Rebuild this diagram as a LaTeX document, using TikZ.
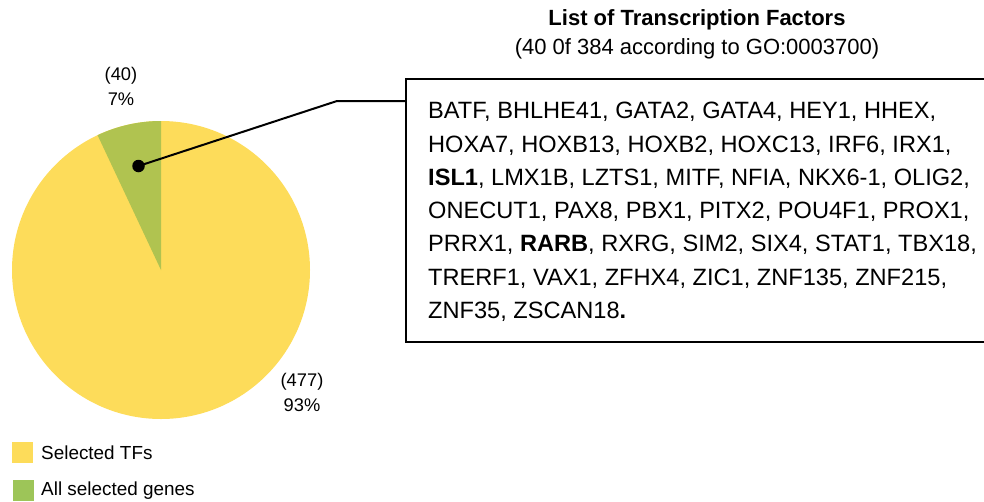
\documentclass[tikz,border=0pt]{standalone}
\usepackage{fontspec}
\setmainfont{Liberation Sans}
\definecolor{pieyellow}{HTML}{FDDC5A}
\definecolor{piegreen}{HTML}{B0C350}
\definecolor{leggreen}{HTML}{9DC558}
\begin{document}
\begin{tikzpicture}[x=1pt,y=1pt,
  lbl/.style={inner sep=0pt,font=\fontsize{18.3}{20}\selectfont},
  legtxt/.style={inner sep=0pt,anchor=west,font=\fontsize{18.9}{20}\selectfont},
  legsq/.style={inner sep=0pt,minimum width=21pt,minimum height=21pt,anchor=north west},
  conn/.style={line width=2pt,black}]
\useasboundingbox (0,0) rectangle (984,-501);
\clip (0,0) rectangle (984,-501);
% pie
\fill[pieyellow] (161,-270) circle[radius=149];
\fill[piegreen] (161,-270) -- ++(90:149) arc[start angle=90,end angle=115.2,radius=149] -- cycle;
% labels
\node[lbl] (n40) at (121,-75.5) {(40)};
\node[lbl] (p7) at (121,-99.5) {7\%};
\node[lbl] (n477) at (302,-381.5) {(477)};
\node[lbl] (p93) at (302,-405.5) {93\%};
% title
\node[inner sep=0pt,font=\fontsize{22}{24}\selectfont\bfseries] (title) at (697,-20) {List of Transcription Factors};
\node[inner sep=0pt,font=\fontsize{22}{24}\selectfont] (subtitle) at (697,-48.5) {(40 0f 384 according to GO:0003700)};
% box
\node[draw,line width=2pt,anchor=north west,minimum width=620pt,minimum height=263pt,inner sep=0pt] (list) at (405,-78) {};
\node[anchor=north west,inner sep=0pt,align=left,font=\fontsize{23.6}{33.3}\selectfont] (genes) at (428,-102.1)
{BATF, BHLHE41, GATA2, GATA4, HEY1, HHEX,\\
HOXA7, HOXB13, HOXB2, HOXC13, IRF6, IRX1,\\
\textbf{ISL1}, LMX1B, LZTS1, MITF, NFIA, NKX6-1, OLIG2,\\
ONECUT1, PAX8, PBX1, PITX2, POU4F1, PROX1,\\
PRRX1, \textbf{RARB}, RXRG, SIM2, SIX4, STAT1, TBX18,\\
TRERF1, VAX1, ZFHX4, ZIC1, ZNF135, ZNF215,\\
ZNF35, ZSCAN18\textbf{.}};
% connector
\node[circle,fill=black,inner sep=0pt,minimum size=12.5pt] (dot) at (138.5,-166) {};
\coordinate (bend) at (337,-101);
\draw[conn] (dot.center) -- (bend) -- (bend -| list.west);
% legend
\node[legsq,fill=pieyellow] (legy) at (12,-442) {};
\node[legtxt] (legyt) at (41,-452.5) {Selected TFs};
\node[legsq,fill=leggreen] (legg) at (13,-480) {};
\node[legtxt] (leggt) at (41,-490.5) {All selected genes};
\end{tikzpicture}
\end{document}
